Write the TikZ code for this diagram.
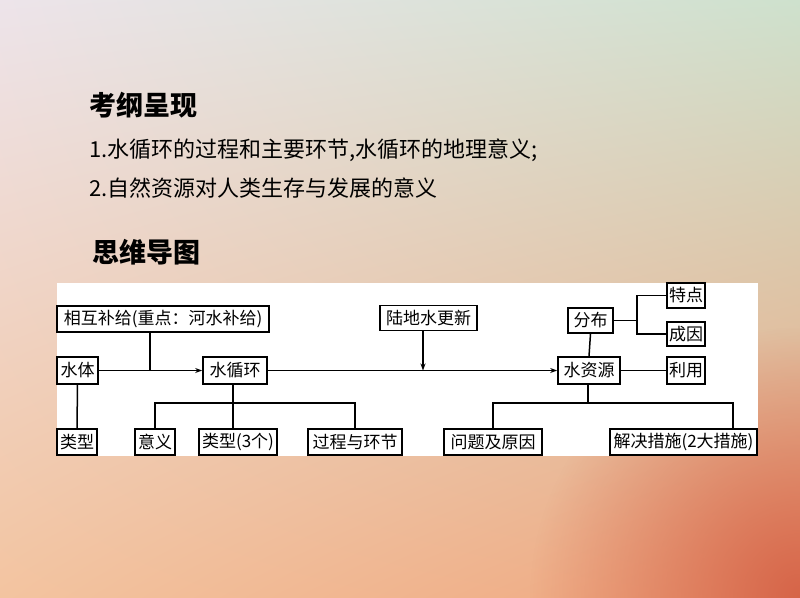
\documentclass[tikz,border=0pt]{standalone}
\usepackage{fontspec}
\setmainfont{Noto Sans CJK SC}
\usetikzlibrary{arrows.meta,fadings,shadings}

\definecolor{bgtl}{RGB}{237,228,234}
\definecolor{bgtr}{RGB}{206,225,205}
\definecolor{bgbl}{RGB}{243,196,160}
\definecolor{bgbr}{RGB}{238,165,125}
\definecolor{bgred}{RGB}{214,100,72}

\tikzfading[name=glow, inner color=transparent!0, outer color=transparent!100]

\tikzset{
    kuang/.style={draw, line width=1.7pt, fill=white, inner sep=0pt, minimum height=26pt, font=\fontsize{17}{17}\selectfont},
    xian/.style={line width=1.5pt},
    jian/.style={xian, -{Stealth[length=7pt, width=5pt]}},
    biaoti/.style={anchor=west, inner sep=0pt, font=\fontsize{27}{27}\selectfont\bfseries},
    zhengwen/.style={anchor=west, inner sep=0pt, font=\fontsize{22}{22}\selectfont}
}

\begin{document}
\begin{tikzpicture}[x=1pt, y=-1pt]
        \useasboundingbox ( 0, 0 ) rectangle ( 800, 597 );

        % фон
        \shade [ upper left = bgtl, upper right = bgtr, lower left = bgbl, lower right = bgbr ] ( 0, 0 ) rectangle ( 800, 597 );
        \fill [ bgred, path fading = glow ] ( 800, 597 ) circle [ radius = 270 ];

        % заголовки и текст
        \node [biaoti] (kgcx) at ( 89, 105 ) {考纲呈现};
        \node [zhengwen] (yaoqiu1) at ( 89, 150 ) {1.水循环的过程和主要环节,水循环的地理意义;};
        \node [zhengwen] (yaoqiu2) at ( 89, 188 ) {2.自然资源对人类生存与发展的意义};
        \node [biaoti] (swdt) at ( 92, 252 ) {思维导图};

        % белое поле схемы
        \fill [white] ( 57, 283 ) rectangle ( 758, 456 );

        % верхний ряд
        \node [kuang, minimum width=212pt] (buji) at ( 163, 319 ) {相互补给(重点：河水补给)};
        \node [kuang, minimum width=97pt, minimum height=25pt] (gengxin) at ( 428.5, 318 ) {陆地水更新};
        \node [kuang, minimum width=45pt, minimum height=25pt] (fenbu) at ( 590.5, 320.5 ) {分布};
        \node [kuang, minimum width=38pt, minimum height=25pt] (tedian) at ( 686, 295.5 ) {特点};
        \node [kuang, minimum width=38pt, minimum height=24pt] (chengyin) at ( 686, 334 ) {成因};

        % средний ряд
        \node [kuang, minimum width=41pt, minimum height=27pt] (shuiti) at ( 77.5, 370.5 ) {水体};
        \node [kuang, minimum width=64pt, minimum height=27pt] (xunhuan) at ( 235, 370.5 ) {水循环};
        \node [kuang, minimum width=62pt, minimum height=27pt] (ziyuan) at ( 589, 370.5 ) {水资源};
        \node [kuang, minimum width=38pt, minimum height=27pt] (liyong) at ( 686, 370.5 ) {利用};

        % нижний ряд
        \node [kuang, minimum width=40pt] (leixing) at ( 77, 442 ) {类型};
        \node [kuang, minimum width=40pt] (yiyi) at ( 155, 442 ) {意义};
        \node [kuang, minimum width=78pt] (leixingsan) at ( 238, 442 ) {类型(3个)};
        \node [kuang, minimum width=94pt] (guocheng) at ( 355, 442 ) {过程与环节};
        \node [kuang, minimum width=98pt] (wenti) at ( 493, 442 ) {问题及原因};
        \node [kuang, minimum width=147pt] (cuoshi) at ( 683.5, 442 ) {解决措施(2大措施)};

        % точки стыка
        \coordinate (jie1) at ( 150, 370.5 );
        \coordinate (jie2) at ( 423, 370.5 );
        \coordinate (cha) at ( 637, 320.5 );
        \coordinate (zhi1) at ( 233, 403 );
        \coordinate (zhi2) at ( 588, 403 );
        \coordinate (zhi3) at ( 733, 403 );

        % главная линия
        \draw [jian] (shuiti.east) -- (xunhuan.west);
        \draw [jian] (xunhuan.east) -- (ziyuan.west);
        \draw [xian] (buji.south -| jie1) -- (jie1);
        \draw [jian] (gengxin.south -| jie2) -- (jie2);

        % правая часть
        \draw [xian] (fenbu.south) -- (ziyuan.north);
        \draw [xian] (fenbu.east) -- (cha);
        \draw [xian] (tedian.west) -| (cha) |- (chengyin.west);
        \draw [xian] (ziyuan.east) -- (liyong.west);

        % ветви вниз
        \draw [xian] (shuiti.south) -- (leixing.north);
        \draw [xian] (xunhuan.south -| zhi1) -- (zhi1 |- leixingsan.north);
        \draw [xian] (yiyi.north) |- (zhi1 -| guocheng.north) -- (guocheng.north);
        \draw [xian] (ziyuan.south -| zhi2) -- (zhi2);
        \draw [xian] (wenti.north) |- (zhi3) -- (zhi3 |- cuoshi.north);
    \end{tikzpicture}
\end{document}
